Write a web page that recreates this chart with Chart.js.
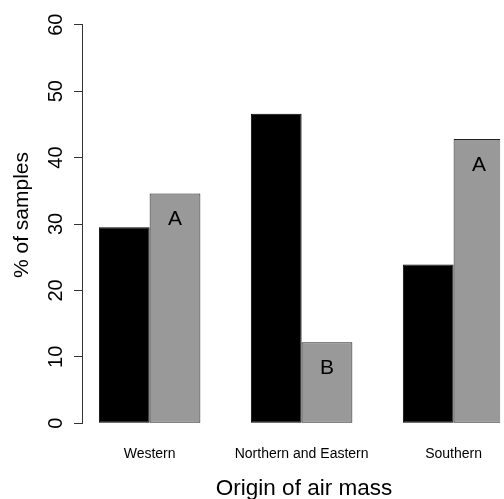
<!DOCTYPE html>
<html>
<head>
<meta charset="utf-8">
<script src="https://cdn.jsdelivr.net/npm/chart.js@4.4.1/dist/chart.umd.min.js"></script>
<style>
  body { margin: 0; background: #fff; overflow: hidden; }
</style>
</head>
<body>
<canvas id="chart" width="504" height="499"></canvas>
<script>
// data
const categories = ['Western', 'Northern and Eastern', 'Southern'];
const blackValues = [29.5, 46.6, 23.9];
const greyValues = [34.6, 12.2, 42.8];
const letters = ['A', 'B', 'A'];
const yTicks = [0, 10, 20, 30, 40, 50, 60];

const FONT = 'Liberation Sans, Arial, Helvetica, sans-serif';

// R style text: rotated y tick labels, axis titles, letters in the grey bars
const extras = {
  id: 'extras',
  afterDraw(chart) {
    const ctx = chart.ctx;
    const y = chart.scales.y;
    ctx.save();
    ctx.fillStyle = '#000';
    ctx.textAlign = 'center';
    ctx.textBaseline = 'middle';
    ctx.font = '20px ' + FONT;
    yTicks.forEach(function(t) {
      ctx.save();
      ctx.translate(56, y.getPixelForValue(t));
      ctx.rotate(-Math.PI / 2);
      ctx.fillText(String(t), 0, 0);
      ctx.restore();
    });
    ctx.save();
    ctx.font = '21px ' + FONT;
    ctx.translate(22, 215);
    ctx.rotate(-Math.PI / 2);
    ctx.fillText('% of samples', 0, 0);
    ctx.restore();
    ctx.font = '22.5px ' + FONT;
    ctx.fillText('Origin of air mass', 304, 489);
    ctx.font = '21px ' + FONT;
    chart.getDatasetMeta(1).data.forEach(function(bar, i) {
      ctx.fillText(letters[i], bar.x, bar.y + 26);
    });
    ctx.restore();
  }
};

new Chart(document.getElementById('chart'), {
  type: 'bar',
  data: {
    datasets: [{
      data: categories.map(function(c, i) { return { x: i, y: blackValues[i] }; }),
      backgroundColor: '#000',
      borderColor: '#000',
      borderWidth: 1,
      borderSkipped: false
    }, {
      data: categories.map(function(c, i) { return { x: i, y: greyValues[i] }; }),
      backgroundColor: '#999999',
      borderColor: '#222',
      borderWidth: 1,
      borderSkipped: false
    }]
  },
  options: {
    responsive: false,
    animation: false,
    devicePixelRatio: 1,
    categoryPercentage: 0.668,
    barPercentage: 1,
    layout: { padding: { top: 24.7, right: 0, left: 0, bottom: 0 } },
    plugins: {
      legend: { display: false },
      tooltip: { enabled: false }
    },
    scales: {
      x: {
        type: 'linear',
        offset: false,
        min: -0.445,
        max: 2.306,
        afterBuildTicks: function(scale) {
          scale.ticks = categories.map(function(c, i) { return { value: i }; });
        },
        afterFit: function(scale) { scale.height = 75.7; },
        border: { display: false },
        grid: { display: false, drawTicks: false },
        ticks: {
          padding: 22,
          color: '#000',
          font: { family: FONT, size: 14 },
          maxRotation: 0,
          callback: function(v) { return categories[v]; }
        },
        title: { display: false }
      },
      y: {
        min: 0,
        max: 60,
        afterBuildTicks: function(scale) {
          scale.ticks = yTicks.map(function(t) { return { value: t }; });
        },
        afterFit: function(scale) { scale.width = 82; },
        border: { display: true, color: '#333', width: 1 },
        grid: { drawOnChartArea: false, drawTicks: true, tickLength: 8, color: '#333' },
        ticks: { display: false },
        title: { display: false }
      }
    }
  },
  plugins: [extras]
});
</script>
</body>
</html>
